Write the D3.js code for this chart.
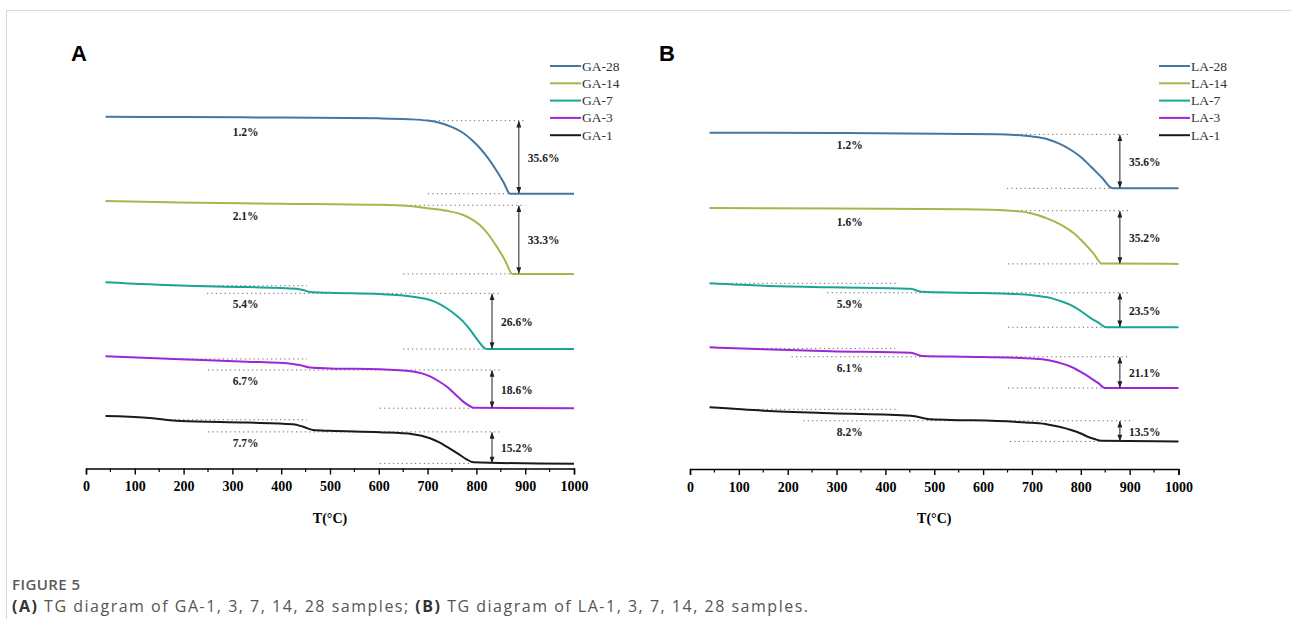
<!DOCTYPE html>
<html>
<head>
<meta charset="utf-8">
<script src="https://cdn.jsdelivr.net/npm/d3@7"></script>
<style>
body{margin:0;background:#fff;}
svg{display:block;}
</style>
</head>
<body>
<script>
// ---- data (T in °C, mass in %) ----
const namesA=["GA-28","GA-14","GA-7","GA-3","GA-1"];
const namesB=["LA-28","LA-14","LA-7","LA-3","LA-1"];
const colors=["#4677a0","#a3b84a","#19a596","#9b27d8","#1a1a1a"];
const xTicks=[0,100,200,300,400,500,600,700,800,900,1000];

const ga28=[[40,100],[200,99.8],[400,99.6],[600,99.2],[660,98.8],[700,98.1],[720,97.3],[739,96.0],[756,94.3],[773,92.1],[790,88.8],[807,84.8],[825,79.5],[842,73.5],[856,68.0],[869,62.6],[1000,62.6]];
const ga14=[[40,100],[193,99.2],[400,98.7],[602,98.1],[660,97.5],[700,96.5],[740,95.2],[773,93.2],[790,91.2],[807,88.3],[825,83.6],[842,77.7],[858,71.5],[874,64.6],[1000,64.6]];
const ga7=[[40,100],[193,98.4],[329,97.7],[431,96.9],[445,96.3],[459,95.3],[500,94.9],[602,94.3],[670,93.0],[705,91.4],[722,89.8],[739,87.4],[756,84.5],[773,80.9],[787,77.0],[800,72.8],[821,67.6],[1000,67.6]];
const ga3=[[40,100],[193,98.5],[329,97.4],[424,96.3],[440,95.6],[459,94.5],[500,94.1],[602,93.7],[670,92.6],[690,91.6],[705,90.2],[722,88.0],[739,85.3],[756,81.7],[773,78.0],[784,76.2],[794,75.0],[1000,74.8]];
const ga1=[[40,100],[124,99.2],[193,97.6],[329,96.8],[424,96.0],[445,94.8],[465,93.2],[500,92.8],[602,92.1],[670,91.2],[705,89.2],[722,87.4],[739,85.1],[766,81.1],[780,79.0],[794,77.5],[1000,76.8]];

const la28=[[40,100],[300,99.8],[630,98.9],[664,98.5],[700,97.5],[732,95.7],[756,92.8],[780,88.6],[800,84.0],[821,77.6],[843,70.5],[865,63.4],[1000,63.4]];
const la14=[[40,100],[300,99.6],[561,99.1],[664,98.0],[698,96.5],[732,93.0],[766,87.7],[787,83.0],[807,76.8],[825,70.5],[843,63.4],[1000,63.2]];
const la7=[[40,100],[151,98.4],[288,97.4],[452,96.4],[473,94.5],[561,93.8],[664,93.0],[700,92.2],[732,90.8],[756,88.6],[780,85.7],[800,81.8],[821,77.0],[837,74.0],[852,71.1],[1000,71.1]];
const la3=[[40,100],[151,98.7],[288,97.4],[452,96.4],[475,94.3],[561,93.8],[664,93.2],[700,92.6],[732,91.6],[756,89.8],[780,87.2],[800,83.8],[821,79.6],[836,76.4],[850,73.2],[1000,73.2]];
const la1=[[40,100],[151,97.8],[288,96.1],[452,94.5],[493,92.1],[561,91.6],[664,90.5],[700,89.8],[732,88.8],[756,87.2],[780,85.1],[800,82.8],[814,80.7],[828,79.2],[842,78.0],[1000,77.6]];

// vertical stacking shift of each curve (% units)
const shiftA=[0,40.9,80.4,116.3,145.3];
const shiftB=[0,49.5,99.1,141.2,180.7];

// weight-loss labels
const smallA=["1.2%","2.1%","5.4%","6.7%","7.7%"];
const bigA=["35.6%","33.3%","26.6%","18.6%","15.2%"];
const smallB=["1.2%","1.6%","5.9%","6.1%","8.2%"];
const bigB=["35.6%","35.2%","23.5%","21.1%","13.5%"];

// dotted guides: [mass level, T from, T to]
const stepA=[null,null,[98.35,172,453],[98.7,172,453],[98.2,172,453]];
const topA=[[98.06,705,900],[97.9,620,900],[94.66,248,848],[93.35,250,852],[92.3,250,852]];
const botA=[[62.6,701,869],[64.6,650,874],[67.6,650,821],[74.8,602,793],[77.0,602,790]];
const arrowA=[887,887,832,832,832];

const stepB=[null,null,[100,85,427],[99.3,85,420],[98.7,85,427]];
const topB=[[98.9,651,901],[98.2,651,901],[93.8,281,901],[93.8,208,901],[91.2,232,901]];
const botB=[[63.4,649,865],[63.2,651,843],[71.1,651,852],[73.2,651,850],[77.6,655,842]];
const arrowB=[880,880,880,880,880];

const W=1291,H=619;
const svg=d3.select("body").append("svg").attr("width",W).attr("height",H);

svg.append("defs").append("marker")
  .attr("id","ah").attr("viewBox","0 0 8 6").attr("refX",7.5).attr("refY",3)
  .attr("markerWidth",7).attr("markerHeight",5).attr("markerUnits","userSpaceOnUse")
  .attr("orient","auto-start-reverse")
  .append("path").attr("d","M0,0L8,3L0,6Z").attr("fill","#222");

// page frame
svg.append("line").attr("x1",6.5).attr("x2",W).attr("y1",10.5).attr("y2",10.5).attr("stroke","#d6d6d6");
svg.append("line").attr("x1",6.5).attr("x2",6.5).attr("y1",10.5).attr("y2",H).attr("stroke","#d6d6d6");

const serif="'Liberation Serif','Times New Roman',serif";

function drawPanel(p){
  const x=d3.scaleLinear().domain([0,1000]).range(p.xr);
  const y=d3.scaleLinear().domain([100,-100]).range([p.y0,p.y0+200*p.k]);
  const g=svg.append("g");

  // panel letter
  g.append("text").attr("x",p.letterX).attr("y",61).text(p.letter)
    .attr("font-family","Arial,'Liberation Sans',sans-serif").attr("font-weight","bold").attr("font-size",22);

  const dot=(lv,t0,t1,sh)=>g.append("line")
    .attr("x1",x(t0)).attr("x2",x(t1)).attr("y1",y(lv-sh)).attr("y2",y(lv-sh))
    .attr("stroke","#666").attr("stroke-width",1).attr("stroke-dasharray","1.2,3.2");

  p.series.forEach((s,i)=>{
    const sh=p.shift[i];
    if(p.step[i]) dot(p.step[i][0],p.step[i][1],p.step[i][2],sh);
    dot(p.top[i][0],p.top[i][1],p.top[i][2],sh);
    dot(p.bot[i][0],p.bot[i][1],p.bot[i][2],sh);

    g.append("path").datum(s)
      .attr("fill","none").attr("stroke",colors[i]).attr("stroke-width",2)
      .attr("d",d3.line().x(d=>x(d[0])).y(d=>y(d[1]-sh)).curve(d3.curveMonotoneX));

    const yt=y(p.top[i][0]-sh), yb=y(p.bot[i][0]-sh);
    g.append("line").attr("x1",x(p.arrow[i])).attr("x2",x(p.arrow[i]))
      .attr("y1",yt+0.5).attr("y2",yb-0.5)
      .attr("stroke","#222").attr("stroke-width",1)
      .attr("marker-start","url(#ah)").attr("marker-end","url(#ah)");

    g.append("text").attr("x",x(p.arrow[i])+9).attr("y",(yt+yb)/2+4.5)
      .text(p.big[i]).attr("font-family",serif).attr("font-weight","bold").attr("font-size",11.5).attr("fill","#222");
    g.append("text").attr("x",x(327)).attr("y",yt+15).attr("text-anchor","middle")
      .text(p.small[i]).attr("font-family",serif).attr("font-weight","bold").attr("font-size",11.5).attr("fill","#222");
  });

  // x axis
  const ax=g.append("g").attr("transform",`translate(0,${p.axisY})`)
    .call(d3.axisBottom(x).tickValues(xTicks).tickSize(6).tickPadding(7).tickFormat(d3.format("d")));
  ax.select(".domain").attr("stroke-width",1.4);
  ax.selectAll(".tick line").attr("stroke-width",1.4);
  ax.selectAll("text").attr("font-family",serif).attr("font-weight","bold").attr("font-size",14).attr("fill","#000");
  g.append("g").attr("transform",`translate(0,${p.axisY})`)
    .selectAll("line").data(d3.range(50,1000,100)).join("line")
    .attr("x1",d=>x(d)).attr("x2",d=>x(d)).attr("y1",0).attr("y2",3.5).attr("stroke","#000").attr("stroke-width",1.2);

  g.append("text").attr("x",(p.xr[0]+p.xr[1])/2).attr("y",523).attr("text-anchor","middle")
    .text("T(°C)").attr("font-family",serif).attr("font-weight","bold").attr("font-size",14);

  // legend
  p.names.forEach((n,i)=>{
    const ly=66+i*17.3;
    g.append("line").attr("x1",p.legX).attr("x2",p.legX+31).attr("y1",ly).attr("y2",ly)
      .attr("stroke",colors[i]).attr("stroke-width",2);
    g.append("text").attr("x",p.legX+32).attr("y",ly+4.5).text(n)
      .attr("font-family",serif).attr("font-size",13.5).attr("fill","#333");
  });
}

drawPanel({letter:"A",letterX:71,xr:[86,574],y0:116.7,k:2.06,axisY:468.5,legX:550,
  series:[ga28,ga14,ga7,ga3,ga1],names:namesA,shift:shiftA,small:smallA,big:bigA,
  step:stepA,top:topA,bot:botA,arrow:arrowA});
drawPanel({letter:"B",letterX:659,xr:[690,1178.5],y0:132.7,k:1.52,axisY:469,legX:1159,
  series:[la28,la14,la7,la3,la1],names:namesB,shift:shiftB,small:smallB,big:bigB,
  step:stepB,top:topB,bot:botB,arrow:arrowB});

// caption
const cap=svg.append("g").attr("font-family","'Open Sans',sans-serif");
cap.append("text").attr("x",12).attr("y",590).text("FIGURE 5")
  .attr("font-size",15).attr("fill","#5a5a5a").attr("font-weight",600)
  .attr("textLength",68).attr("lengthAdjust","spacing");
const c2=cap.append("text").attr("x",12).attr("y",612).attr("font-size",16).attr("fill","#555")
  .attr("textLength",796).attr("lengthAdjust","spacing");
c2.append("tspan").text("(A)").attr("font-weight","bold").attr("fill","#333");
c2.append("tspan").text(" TG diagram of GA-1, 3, 7, 14, 28 samples; ");
c2.append("tspan").text("(B)").attr("font-weight","bold").attr("fill","#333");
c2.append("tspan").text(" TG diagram of LA-1, 3, 7, 14, 28 samples.");
</script>
</body>
</html>
